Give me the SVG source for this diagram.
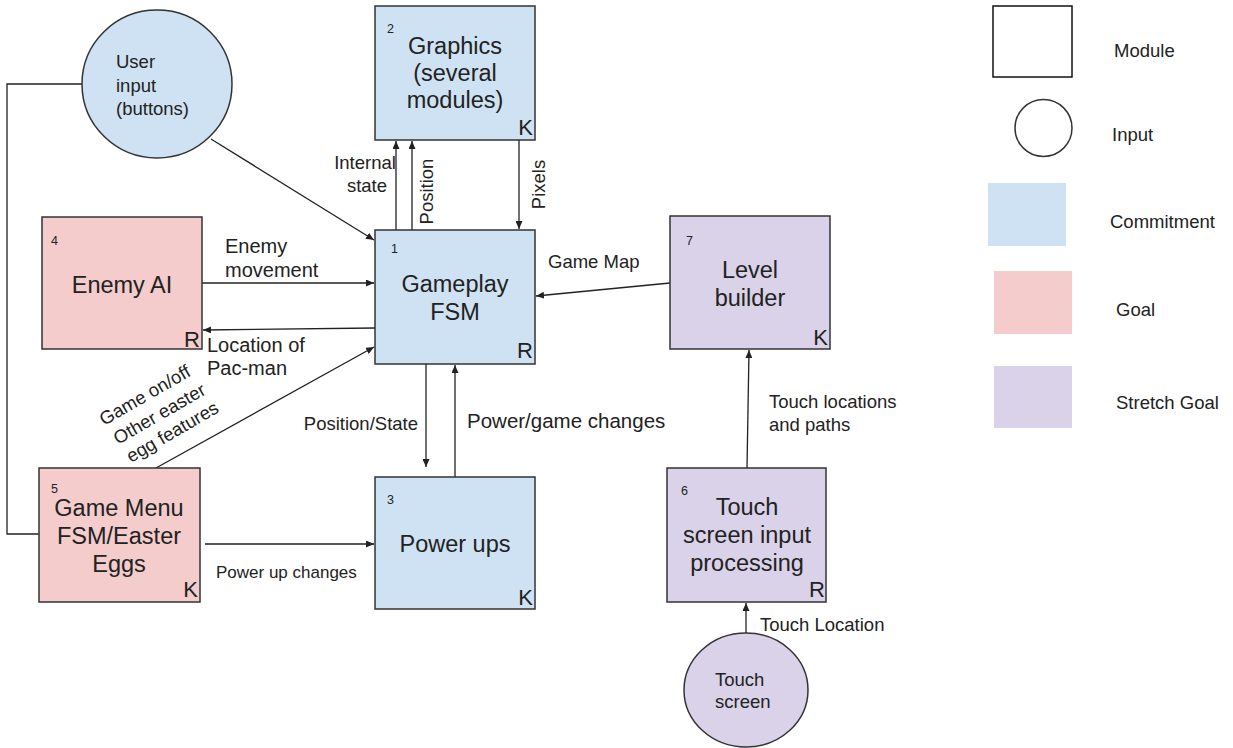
<svg xmlns="http://www.w3.org/2000/svg" width="1233" height="748" viewBox="0 0 1233 748">
  <style>
    text { font-family: "Liberation Sans", Arial, sans-serif; fill: #222; }
    .box { stroke: #333; stroke-width: 1.5; }
    .commit { fill: #cfe2f3; }
    .goal { fill: #f4cccc; }
    .stretch { fill: #d9d2e9; }
    .title { font-size: 23.5px; text-anchor: middle; }
    .num { font-size: 12.5px; }
    .corner { font-size: 22px; text-anchor: end; }
    .lbl { font-size: 18.5px; }
    .big { font-size: 20px; }
    .in { font-size: 18.5px; }
    .leg { font-size: 18.5px; }
    .wire { stroke: #222; stroke-width: 1.3; fill: none; }
    .arr { marker-end: url(#head); }
  </style>
  <defs>
    <marker id="head" markerUnits="userSpaceOnUse" markerWidth="8" markerHeight="7" refX="8" refY="3.5" orient="auto">
      <path d="M0,0 L8,3.5 L0,7 z" fill="#222"/>
    </marker>
  </defs>
  <rect width="1233" height="748" fill="#ffffff"/>

  <!-- connectors -->
  <g id="connectors">
    <polyline class="wire" points="82,84 7,84 7,534 39,534"/>
    <line class="wire arr" x1="211" y1="139" x2="374" y2="240"/>
    <line class="wire arr" x1="396" y1="230" x2="396" y2="141"/>
    <line class="wire arr" x1="412" y1="230" x2="412" y2="141"/>
    <line class="wire arr" x1="519" y1="140" x2="519" y2="229"/>
    <line class="wire arr" x1="202" y1="283" x2="374" y2="283"/>
    <line class="wire arr" x1="375" y1="328" x2="203" y2="330"/>
    <line class="wire arr" x1="156" y1="468" x2="374" y2="347"/>
    <line class="wire arr" x1="426" y1="364" x2="426" y2="467"/>
    <line class="wire arr" x1="455" y1="477" x2="455" y2="365"/>
    <line class="wire arr" x1="670" y1="283" x2="536" y2="296"/>
    <line class="wire arr" x1="205" y1="544" x2="374" y2="544"/>
    <line class="wire arr" x1="747" y1="468" x2="749" y2="350"/>
    <line class="wire arr" x1="746" y1="633" x2="746" y2="603"/>

    <text class="lbl" x="365" y="169" text-anchor="middle">Internal</text>
    <text class="lbl" x="367" y="192" text-anchor="middle">state</text>
    <text class="lbl" transform="translate(433,191.5) rotate(-90)" text-anchor="middle">Position</text>
    <text class="lbl" transform="translate(545,184.5) rotate(-90)" text-anchor="middle">Pixels</text>
    <text class="big" x="225" y="253">Enemy</text>
    <text class="big" x="225" y="277">movement</text>
    <text class="big" x="207" y="352">Location of</text>
    <text class="big" x="207" y="375">Pac-man</text>
    <text class="lbl" transform="translate(104,426) rotate(-30)">Game on/off</text>
    <text class="lbl" transform="translate(118,445) rotate(-30)">Other easter</text>
    <text class="lbl" transform="translate(131,463) rotate(-30)">egg features</text>
    <text class="lbl" x="418" y="430" text-anchor="end">Position/State</text>
    <text class="lbl" x="467" y="428" style="font-size:20.5px">Power/game changes</text>
    <text class="lbl" x="548" y="268">Game Map</text>
    <text class="lbl" x="216" y="578" style="font-size:17px">Power up changes</text>
    <text class="lbl" x="769" y="408">Touch locations</text>
    <text class="lbl" x="769" y="431">and paths</text>
    <text class="lbl" x="760" y="631">Touch Location</text>
  </g>

  <!-- inputs -->
  <g id="user-input">
    <ellipse class="box commit" cx="157" cy="84" rx="75" ry="74"/>
    <text class="in" x="116" y="68">User</text>
    <text class="in" x="116" y="92">input</text>
    <text class="in" x="116" y="115">(buttons)</text>
  </g>
  <g id="touch-screen">
    <ellipse class="box stretch" cx="746" cy="690" rx="62" ry="57"/>
    <text class="in" x="715" y="686">Touch</text>
    <text class="in" x="715" y="708">screen</text>
  </g>

  <!-- modules -->
  <g id="graphics">
    <rect class="box commit" x="375" y="6" width="160" height="134"/>
    <text class="num" x="387" y="33">2</text>
    <text class="title" x="455" y="54">Graphics</text>
    <text class="title" x="455" y="81">(several</text>
    <text class="title" x="455" y="108">modules)</text>
    <text class="corner" x="533" y="135">K</text>
  </g>
  <g id="gameplay-fsm">
    <rect class="box commit" x="375" y="230" width="160" height="134"/>
    <text class="num" x="391" y="253">1</text>
    <text class="title" x="455" y="292">Gameplay</text>
    <text class="title" x="455" y="320">FSM</text>
    <text class="corner" x="533" y="358">R</text>
  </g>
  <g id="power-ups">
    <rect class="box commit" x="375" y="477" width="160" height="132"/>
    <text class="num" x="387" y="504">3</text>
    <text class="title" x="455" y="552">Power ups</text>
    <text class="corner" x="533" y="605">K</text>
  </g>
  <g id="enemy-ai">
    <rect class="box goal" x="42" y="217" width="160" height="132"/>
    <text class="num" x="51" y="245">4</text>
    <text class="title" x="122" y="293">Enemy AI</text>
    <text class="corner" x="200" y="347">R</text>
  </g>
  <g id="game-menu">
    <rect class="box goal" x="39" y="468" width="161" height="134"/>
    <text class="num" x="51" y="493">5</text>
    <text class="title" x="119" y="516">Game Menu</text>
    <text class="title" x="119" y="544">FSM/Easter</text>
    <text class="title" x="119" y="572">Eggs</text>
    <text class="corner" x="198" y="597">K</text>
  </g>
  <g id="level-builder">
    <rect class="box stretch" x="670" y="216" width="160" height="133"/>
    <text class="num" x="686" y="245">7</text>
    <text class="title" x="750" y="278">Level</text>
    <text class="title" x="750" y="306">builder</text>
    <text class="corner" x="828" y="345">K</text>
  </g>
  <g id="touch-processing">
    <rect class="box stretch" x="667" y="468" width="159" height="134"/>
    <text class="num" x="681" y="495">6</text>
    <text class="title" x="747" y="515">Touch</text>
    <text class="title" x="747" y="543">screen input</text>
    <text class="title" x="747" y="571">processing</text>
    <text class="corner" x="825" y="597">R</text>
  </g>

  <!-- legend -->
  <g id="legend">
    <rect x="993" y="6" width="79" height="71" fill="#fff" stroke="#111" stroke-width="1.5"/>
    <text class="leg" x="1114" y="57">Module</text>
    <circle cx="1043.5" cy="128" r="28.5" fill="#fff" stroke="#333" stroke-width="1.5"/>
    <text class="leg" x="1112" y="141">Input</text>
    <rect class="commit" x="988" y="183" width="78" height="63"/>
    <text class="leg" x="1110" y="228">Commitment</text>
    <rect class="goal" x="994" y="271" width="78" height="63"/>
    <text class="leg" x="1116" y="316">Goal</text>
    <rect class="stretch" x="994" y="366" width="78" height="62"/>
    <text class="leg" x="1116" y="409">Stretch Goal</text>
  </g>
</svg>
